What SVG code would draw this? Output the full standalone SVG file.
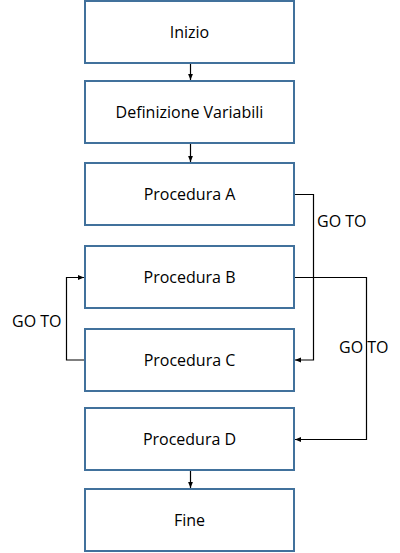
<svg xmlns="http://www.w3.org/2000/svg" width="400" height="553" viewBox="0 0 400 553">
<defs>
<style>
.box{fill:#fff;stroke:#41719C;stroke-width:2}
.t{font-family:"Open Sans","Liberation Sans",sans-serif;font-size:16px;fill:#000;text-anchor:middle}
.l{font-family:"Open Sans","Liberation Sans",sans-serif;font-size:16px;fill:#000}
.c{fill:none;stroke:#000;stroke-width:1.2}
</style>
<marker id="ah" viewBox="0 0 10 10" refX="10" refY="5" markerWidth="6" markerHeight="6" orient="auto" markerUnits="userSpaceOnUse">
<path d="M0,1 L10,5 L0,9 z" fill="#000"/>
</marker>
</defs>
<rect width="400" height="553" fill="#fff"/>
<g id="inizio"><rect class="box" x="85" y="1" width="209" height="62"/><text class="t" x="189.5" y="38">Inizio</text></g>
<g id="definizione"><rect class="box" x="85" y="81" width="209" height="62"/><text class="t" x="189.5" y="118">Definizione Variabili</text></g>
<g id="procA"><rect class="box" x="85" y="163" width="209" height="62"/><text class="t" x="189.5" y="200">Procedura A</text></g>
<g id="procB"><rect class="box" x="85" y="246" width="209" height="62"/><text class="t" x="189.5" y="283">Procedura B</text></g>
<g id="procC"><rect class="box" x="85" y="329" width="209" height="62"/><text class="t" x="189.5" y="366">Procedura C</text></g>
<g id="procD"><rect class="box" x="85" y="408" width="209" height="62"/><text class="t" x="189.5" y="445">Procedura D</text></g>
<g id="fine"><rect class="box" x="85" y="489" width="209" height="62"/><text class="t" x="189.5" y="526">Fine</text></g>
<g id="connectors">
<line class="c" x1="190.5" y1="64" x2="190.5" y2="80" marker-end="url(#ah)"/>
<line class="c" x1="190.5" y1="144" x2="190.5" y2="162" marker-end="url(#ah)"/>
<line class="c" x1="190.5" y1="471" x2="190.5" y2="488" marker-end="url(#ah)"/>
<polyline class="c" points="295,194.5 313.5,194.5 313.5,360 295,360" marker-end="url(#ah)"/>
<polyline class="c" points="295,277.5 366.5,277.5 366.5,439.5 295,439.5" marker-end="url(#ah)"/>
<polyline class="c" points="84,360 66.5,360 66.5,277.5 84,277.5" marker-end="url(#ah)"/>
<text class="l" x="317" y="227">GO TO</text>
<text class="l" x="339" y="353">GO TO</text>
<text class="l" x="12" y="327">GO TO</text>
</g>
</svg>
